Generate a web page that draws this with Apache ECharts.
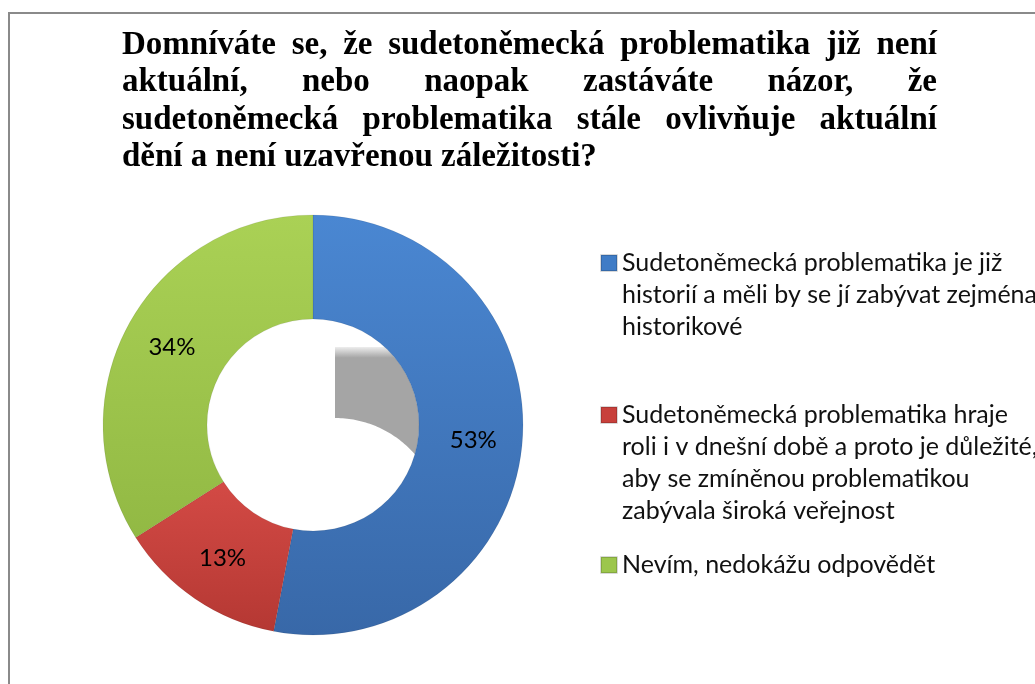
<!DOCTYPE html>
<html>
<head>
<meta charset="utf-8">
<script src="https://cdn.jsdelivr.net/npm/echarts@6/dist/echarts.min.js"></script>
<style>
html,body{margin:0;padding:0;background:#fff;}
#chart{width:1035px;height:684px;}
</style>
</head>
<body>
<div id="chart"></div>
<script>
// ---- data ----
const categories = [
  "Sudetoněmecká problematika je již\nhistorií a měli by se jí zabývat zejména\nhistorikové",
  "Sudetoněmecká problematika hraje\nroli i v dnešní době a proto je důležité,\naby se zmíněnou problematikou\nzabývala široká veřejnost",
  "Nevím, nedokážu odpovědět"
];
const values = [53, 13, 34];
const titleLines = [
  "Domníváte se, že sudetoněmecká problematika již není",
  "aktuální, nebo naopak zastáváte názor, že",
  "sudetoněmecká problematika stále ovlivňuje aktuální",
  "dění a není uzavřenou záležitosti?"
];

// ---- layout / style ----
const colors = [
  ['#4a87d2', '#3868a8'],
  ['#d34a45', '#b53833'],
  ['#aad155', '#92b944']
];
const legendIcon = ['#3f7cc6', '#c8403b', '#9cc64c'];
const cx = 313, cy = 425, rIn = 106, rOut = 210;
const legendFirstLineCenters = [263, 415, 565];
const legendLH = 32;
const legendFont = 'Lato';
const legendSize = 25;

const chart = echarts.init(document.getElementById('chart'));

// title justified text
const titleFont = 'bold 33px "Liberation Serif"';
const cvs = document.createElement('canvas').getContext('2d');
cvs.font = titleFont;
const tLeft = 122, tRight = 937;
const tCenters = [45, 82.5, 120, 157.5];
const graphics = [];
titleLines.forEach((line, i) => {
  const justify = i < titleLines.length - 1;
  const words = justify ? line.split(' ') : [line];
  const widths = words.map(w => cvs.measureText(w).width);
  const total = widths.reduce((a, b) => a + b, 0);
  const gap = words.length > 1 ? (tRight - tLeft - total) / (words.length - 1) : 0;
  let x = tLeft;
  words.forEach((w, j) => {
    graphics.push({type: 'text', z: 10, style: {text: w, x: x, y: tCenters[i], font: titleFont, fill: '#000', verticalAlign: 'middle'}});
    x += widths[j] + gap;
  });
});

// border frame
graphics.push({type: 'rect', z: 0, shape: {x: 9, y: 13, width: 1040, height: 700}, style: {fill: 'none', stroke: '#8a8a8a', lineWidth: 2}});

// shadow inside the hole (Excel 3D artifact), derived from the donut geometry
(function () {
  const dx = 22, dy = 99, topOff = 78;
  const sx = cx + dx, sy = cy + dy;
  const topY = cy - topOff;
  const a0 = Math.asin(Math.sqrt(rIn * rIn - topOff * topOff) / rIn);
  let aEnd = null;
  for (let t = a0; t < Math.PI; t += 0.002) {
    const px = cx + rIn * Math.sin(t), py = cy - rIn * Math.cos(t);
    if (Math.hypot(px - sx, py - sy) <= rIn) { aEnd = t; break; }
  }
  const pts = [[sx, topY]];
  for (let t = a0; t <= aEnd; t += 0.02) {
    pts.push([cx + rIn * Math.sin(t), cy - rIn * Math.cos(t)]);
  }
  const ex = cx + rIn * Math.sin(aEnd), ey = cy - rIn * Math.cos(aEnd);
  pts.push([ex, ey]);
  const b0 = Math.atan2(ex - sx, sy - ey);
  for (let t = b0; t > 0; t -= 0.02) {
    pts.push([sx + rIn * Math.sin(t), sy - rIn * Math.cos(t)]);
  }
  pts.push([sx, sy - rIn]);
  graphics.push({
    type: 'polygon', z: 1,
    shape: {points: pts},
    style: {
      fill: new echarts.graphic.LinearGradient(0, 0, 0, 1, [
        {offset: 0, color: 'rgba(165,165,165,0.2)'},
        {offset: 0.1, color: 'rgba(165,165,165,1)'},
        {offset: 1, color: 'rgba(165,165,165,1)'}
      ])
    }
  });
})();

const pieData = categories.map((c, i) => ({
  name: c,
  value: values[i],
  itemStyle: {
    color: new echarts.graphic.LinearGradient(0, 0, 0, 1, [
      {offset: 0, color: colors[i][0]},
      {offset: 1, color: colors[i][1]}
    ])
  }
}));

// one legend per entry; blank leading lines keep the icon beside the first text line
const legends = categories.map((c, i) => {
  const n = c.split('\n').length;
  const top = legendFirstLineCenters[i] - (2 * n - 1) * legendLH / 2;
  return {
    data: [{name: c, itemStyle: {color: legendIcon[i]}}],
    orient: 'vertical',
    left: 600,
    top: top,
    padding: 0,
    itemWidth: 16,
    itemHeight: 16,
    icon: 'rect',
    selectedMode: false,
    formatter: (name) => '\n'.repeat(n - 1) + name,
    textStyle: {
      fontFamily: legendFont,
      fontSize: legendSize,
      lineHeight: legendLH,
      color: '#111'
    }
  };
});

chart.setOption({
  animation: false,
  backgroundColor: '#fff',
  legend: legends,
  graphic: graphics,
  series: [{
    type: 'pie',
    z: 2,
    center: [cx, cy],
    radius: [rIn, rOut],
    startAngle: 90,
    clockwise: true,
    avoidLabelOverlap: false,
    label: {
      show: true,
      position: 'inside',
      formatter: '{c}%',
      fontFamily: 'Lato',
      fontSize: 24,
      color: '#000'
    },
    labelLine: {show: false},
    itemStyle: {borderColor: 'rgba(0,0,0,0.15)', borderWidth: 0.5},
    emphasis: {disabled: true},
    data: pieData
  }]
});
</script>
</body>
</html>
